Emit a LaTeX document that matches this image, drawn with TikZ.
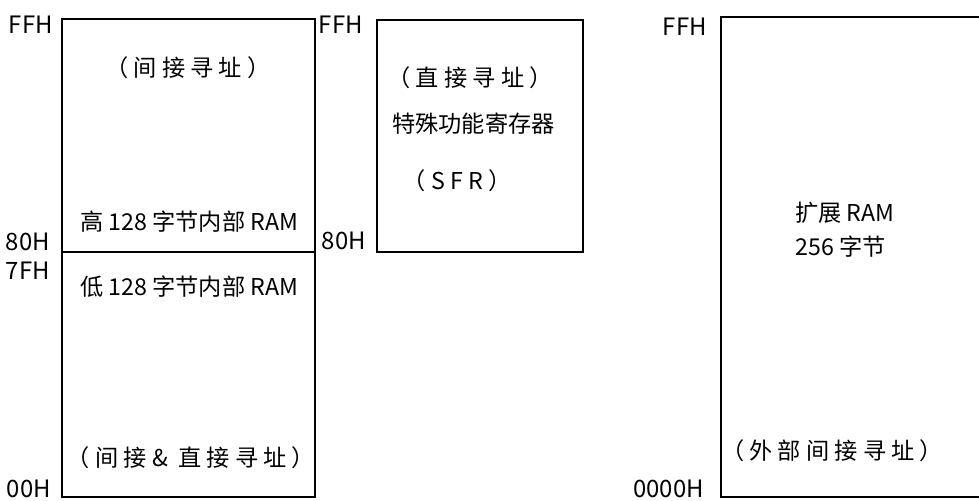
\documentclass[tikz,border=0pt]{standalone}
\usepackage{fontspec}
\setmainfont{Noto Sans CJK SC}
\tikzset{
  lbl/.style={font=\fontsize{16.5}{18}\selectfont, inner sep=0pt},
  addr/.style={font=\fontsize{17}{19}\selectfont, inner sep=0pt, anchor=east},
  txt/.style={lbl, anchor=west},
  box/.style={line width=1.6pt}
}

\begin{document}
\begin{tikzpicture}[x=0.025cm, y=-0.025cm]
        \useasboundingbox (0,0) rectangle (979,500);

        \coordinate (A1) at (62,19);
        \coordinate (A2) at (315,497);
        \coordinate (AL) at (62,252);
        \coordinate (AR) at (315,252);
        \coordinate (B1) at (377,20);
        \coordinate (B2) at (583,252);
        \coordinate (C1) at (979,17);
        \coordinate (C2) at (721,17);
        \coordinate (C3) at (721,497);
        \coordinate (C4) at (979,497);

        \draw[box] (A1) rectangle (A2);
        \draw[box] (AL) -- (AR);
        \draw[box] (B1) rectangle (B2);
        \draw[box] (C1) -- (C2) -- (C3) -- (C4);

        \node[addr] (AFF) at (53,25) {FFH};
        \node[addr] (A80) at (50,242) {80H};
        \node[addr] (A7F) at (50,271) {7FH};
        \node[addr] (A00) at (51,489) {00H};
        \node[addr] (BFF) at (363,25) {FFH};
        \node[addr] (B80) at (366,241) {80H};
        \node[addr] (CFF) at (707,27) {FFH};
        \node[addr] (C00) at (704,489) {0000H};

        \node[lbl] (AT) at (188,68) {（ 间 接 寻 址 ）};
        \node[txt] (AH) at (80,222) {高 128 字节内部 RAM};
        \node[txt] (AD) at (80,287) {低 128 字节内部 RAM};
        \node[lbl] (AB) at (191,458) {（ 间 接 \&~ 直 接 寻 址 ）};

        \node[lbl] (BT) at (470,78) {（ 直 接 寻 址 ）};
        \node[txt] (BS) at (392,124) {特殊功能寄存器};
        \node[lbl] (BR) at (457,181) {（ S F R ）};

        \node[txt] (CR) at (795,213) {扩展 RAM};
        \node[txt] (CB) at (795,247) {256 字节};
        \node[lbl] (CT) at (832,451) {（ 外 部 间 接 寻 址 ）};
\end{tikzpicture}
\end{document}
